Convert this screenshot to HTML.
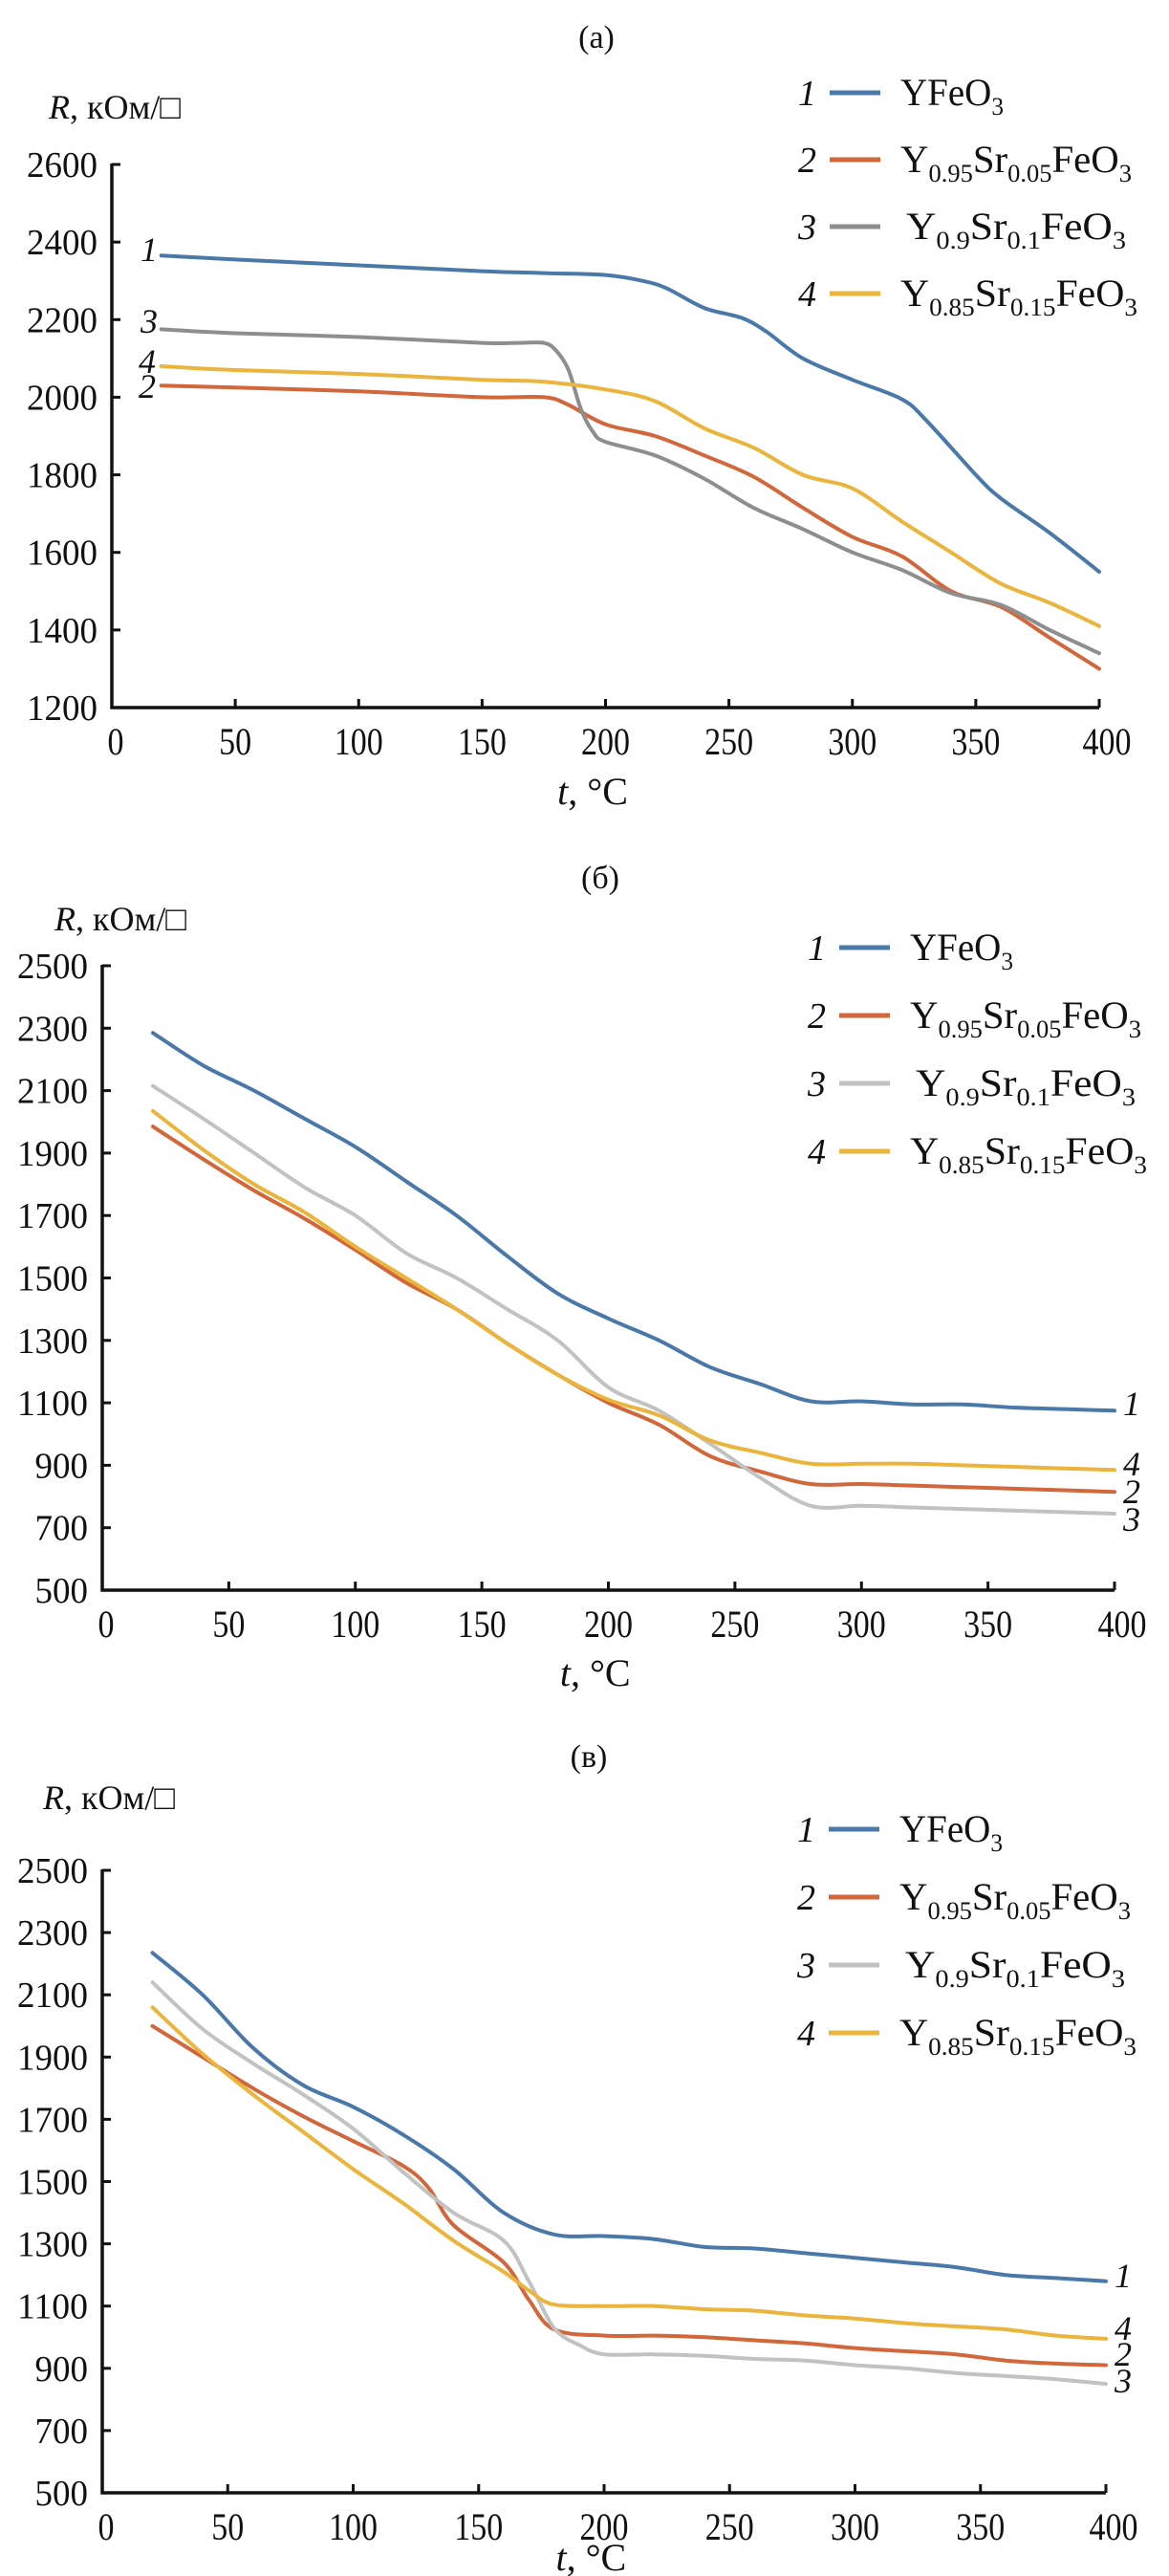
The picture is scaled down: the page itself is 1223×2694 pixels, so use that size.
<!DOCTYPE html>
<html><head><meta charset="utf-8">
<style>
html,body{margin:0;padding:0;background:#fff;}
svg{display:block;}
text{font-family:"Liberation Serif",serif;fill:#111;}
</style></head>
<body>
<svg id="fig" width="1223" height="2694" viewBox="0 0 1223 2694" xmlns="http://www.w3.org/2000/svg"></svg>
<script>
// shared data
const tempTicks = [0,50,100,150,200,250,300,350,400];
const legendNames = ["YFeO3","Y0.95Sr0.05FeO3","Y0.9Sr0.1FeO3","Y0.85Sr0.15FeO3"];

// Panel (a)
const aYTicks = [1200,1400,1600,1800,2000,2200,2400,2600];
const aT1 = [20,50,100,150,175,200,215,225,240,255,265,280,300,320,330,350,360,380,400];
const aR1 = [2365,2355,2340,2325,2320,2315,2300,2280,2230,2205,2170,2100,2045,1995,1940,1800,1740,1650,1550];
const aT2 = [20,50,100,150,175,185,200,220,240,260,280,300,320,340,360,380,400];
const aR2 = [2030,2025,2015,2000,2000,1980,1930,1900,1850,1795,1715,1640,1590,1500,1460,1380,1300];
const aT3 = [20,50,100,150,165,175,180,185,190,195,200,220,240,260,280,300,320,340,360,380,400];
const aR3 = [2175,2165,2155,2140,2140,2140,2120,2070,1970,1910,1885,1850,1790,1715,1660,1600,1555,1495,1465,1400,1340];
const aT4 = [20,50,100,150,175,200,220,240,260,280,300,320,340,360,380,400];
const aR4 = [2080,2070,2060,2045,2040,2020,1990,1920,1870,1800,1765,1680,1600,1520,1470,1410];

// Panel (б)
const bYTicks = [500,700,900,1100,1300,1500,1700,1900,2100,2300,2500];
const bT = [20,40,60,80,100,120,140,160,180,200,220,240,260,280,300,320,340,360,380,400];
const bR1 = [2285,2180,2100,2010,1920,1810,1700,1570,1450,1370,1300,1215,1160,1105,1105,1095,1095,1085,1080,1075];
const bR2 = [1985,1880,1780,1690,1590,1485,1400,1290,1190,1100,1030,930,880,840,840,835,830,825,820,815];
const bR3 = [2115,2010,1900,1790,1700,1580,1500,1400,1300,1150,1075,970,860,770,770,765,760,755,750,745];
const bR4 = [2035,1910,1800,1710,1600,1500,1400,1290,1190,1110,1060,980,940,905,905,905,900,895,890,885];

// Panel (в)
const cYTicks = [500,700,900,1100,1300,1500,1700,1900,2100,2300,2500];
const cT1 = [20,40,60,80,100,120,140,160,180,200,220,240,260,280,300,320,340,360,380,400];
const cR1 = [2235,2100,1930,1810,1740,1650,1540,1400,1330,1325,1315,1290,1285,1270,1255,1240,1225,1200,1190,1180];
const cT2 = [20,40,60,80,100,120,130,140,160,170,180,200,220,240,260,280,300,320,340,360,380,400];
const cR2 = [2000,1900,1800,1710,1630,1550,1480,1360,1240,1120,1025,1005,1005,1000,990,980,965,955,945,925,915,910];
const cT3 = [20,40,60,80,100,120,140,160,170,180,190,200,220,240,260,280,300,320,340,360,380,400];
const cR3 = [2140,1990,1880,1780,1670,1530,1400,1310,1180,1030,975,945,945,940,930,925,910,900,885,875,865,850];
const cT4 = [20,40,60,80,100,120,140,160,170,180,200,220,240,260,280,300,320,340,360,380,400];
const cR4 = [2060,1910,1780,1660,1540,1430,1310,1210,1150,1105,1100,1100,1090,1085,1070,1060,1045,1035,1025,1005,995];

const NS="http://www.w3.org/2000/svg";
const fig=document.getElementById('fig');
function mk(tag,attrs,parent){const e=document.createElementNS(NS,tag);for(const k in attrs)e.setAttribute(k,attrs[k]);(parent||fig).appendChild(e);return e;}
function smooth(pts){
  let d="M"+pts[0][0].toFixed(1)+","+pts[0][1].toFixed(1);
  for(let i=0;i<pts.length-1;i++){
    const p0=pts[i-1]||pts[i],p1=pts[i],p2=pts[i+1],p3=pts[i+2]||p2;
    const c1=[p1[0]+(p2[0]-p0[0])/6,p1[1]+(p2[1]-p0[1])/6];
    const c2=[p2[0]-(p3[0]-p1[0])/6,p2[1]-(p3[1]-p1[1])/6];
    d+=" C"+c1[0].toFixed(1)+","+c1[1].toFixed(1)+" "+c2[0].toFixed(1)+","+c2[1].toFixed(1)+" "+p2[0].toFixed(1)+","+p2[1].toFixed(1);
  }
  return d;
}
function formula(parent,x,y,name,len){
  const t=mk('text',{x:x,y:y,'font-size':40,textLength:len,lengthAdjust:'spacingAndGlyphs'},parent);
  const parts=name.match(/[A-Za-z]+|[0-9.]+/g);
  parts.forEach(p=>{
    const s=document.createElementNS(NS,'tspan');
    s.textContent=p;
    if(/^[0-9.]+$/.test(p)){s.setAttribute('font-size','26');s.setAttribute('dy','10');}
    else if(s!==null){s.setAttribute('dy', t.childNodes.length? '-10':'0');}
    t.appendChild(s);
  });
  return t;
}
function panel(cfg){
  const g=mk('g',{});
  
  
  const sx=v=>cfg.x0+(v-0)/400*(cfg.x1-cfg.x0);
  const sy=v=>cfg.yb+(v-cfg.yTicks[0])/(cfg.yTicks[cfg.yTicks.length-1]-cfg.yTicks[0])*(cfg.yt-cfg.yb);
  const title=mk('text',{x:cfg.titleX,y:cfg.titleY,'font-size':34,'text-anchor':'middle'},g);
  title.textContent=cfg.title;
  
  
  const yl=mk('text',{x:cfg.rx,y:cfg.ry,'font-size':36},g);
  
  
  const ri=document.createElementNS(NS,'tspan');ri.setAttribute('font-style','italic');ri.textContent='R';yl.appendChild(ri);
  const rr=document.createElementNS(NS,'tspan');rr.textContent=', кОм/□';yl.appendChild(rr);
  // axes
  const ax=mk('path',{d:`M${cfg.x0},${cfg.yt-1} V${cfg.yb} H${cfg.x1}`,stroke:'#111','stroke-width':3.5,fill:'none'},g);
  
  
  cfg.yTicks.forEach(v=>{
    const y=sy(v);
    mk('line',{x1:cfg.x0,x2:cfg.x0+9,y1:y,y2:y,stroke:'#111','stroke-width':3},g);
    const t=mk('text',{x:cfg.x0-15,y:y+13,'font-size':38,'text-anchor':'end',textLength:String(v).length*18.5,lengthAdjust:'spacingAndGlyphs'},g);
    t.textContent=v;
    
    
  });
  tempTicks.forEach(v=>{
    const x=sx(v);
    if(v>0) mk('line',{x1:x,x2:x,y1:cfg.yb,y2:cfg.yb-9,stroke:'#111','stroke-width':3},g);
    const t=mk('text',{x:x+(v===0?4:v===400?8:0),y:cfg.yb+49,'font-size':40,'text-anchor':'middle',textLength:String(v).length*17,lengthAdjust:'spacingAndGlyphs'},g);
    t.textContent=v;
    
    
  });
  const xl=mk('text',{x:cfg.x0+(cfg.x1-cfg.x0)*0.487,y:cfg.xTitleY,'font-size':40,'text-anchor':'middle'},g);
  
  
  const ti=document.createElementNS(NS,'tspan');ti.setAttribute('font-style','italic');ti.textContent='t';xl.appendChild(ti);
  const tr=document.createElementNS(NS,'tspan');tr.textContent=', °C';xl.appendChild(tr);
  // series
  cfg.series.forEach((s,i)=>{
    const pts=s.t.map((tv,j)=>[sx(tv),sy(s.r[j])]);
    const p=mk('path',{d:smooth(pts),stroke:s.color,'stroke-width':4,fill:'none','stroke-linecap':'round'},g);
    
    
  });
  // curve number labels
  cfg.curveLabels.forEach(c=>{
    const t=mk('text',{x:c[1],y:c[2],'font-size':36,'font-style':'italic'},g);
    t.textContent=c[0];
    
    
  });
  // legend
  const lens=[108,242,230,248];
  cfg.series.forEach((s,i)=>{
    const y=cfg.legY+i*cfg.legDy;
    const le=mk('g',{},g);
    
    
    const n=mk('text',{x:cfg.legX,y:y,'font-size':38,'font-style':'italic'},le);
    n.textContent=String(i+1);
    mk('line',{x1:cfg.legX+33,x2:cfg.legX+86,y1:y-13,y2:y-13,stroke:s.color,'stroke-width':5},le);
    formula(le,cfg.legX+107+(i===2?6:0),y,legendNames[i],lens[i]);
  });
}
const blue='#4a79a9',red='#d2673b',yellow='#ebb43c';
panel({id:'a',title:'(a)',titleX:624,titleY:50,rx:51,ry:124,x0:117,x1:1150,yb:740,yt:172,yTicks:aYTicks,xTitleY:841,
  series:[{t:aT1,r:aR1,color:blue},{t:aT2,r:aR2,color:red},{t:aT3,r:aR3,color:'#8e8e8e'},{t:aT4,r:aR4,color:yellow}],
  curveLabels:[['1',147,273],['3',147,348],['4',145,390],['2',145,416]],
  legX:835,legY:110,legDy:70});
panel({id:'b',title:'(б)',titleX:628,titleY:929,rx:57,ry:973,x0:107,x1:1166,yb:1663,yt:1010,yTicks:bYTicks,xTitleY:1763,
  series:[{t:bT,r:bR1,color:blue},{t:bT,r:bR2,color:red},{t:bT,r:bR3,color:'#c2c2c2'},{t:bT,r:bR4,color:yellow}],
  curveLabels:[['1',1175,1480],['4',1175,1543],['2',1175,1572],['3',1175,1601]],
  legX:845,legY:1004,legDy:71});
panel({id:'c',title:'(в)',titleX:616,titleY:1848,rx:45,ry:1892,x0:107,x1:1157,yb:2607,yt:1956,yTicks:cYTicks,xTitleY:2688,
  series:[{t:cT1,r:cR1,color:blue},{t:cT2,r:cR2,color:red},{t:cT3,r:cR3,color:'#c2c2c2'},{t:cT4,r:cR4,color:yellow}],
  curveLabels:[['1',1166,2392],['4',1166,2447],['2',1166,2474],['3',1166,2502]],
  legX:834,legY:1926,legDy:71});
</script>
</body></html>
